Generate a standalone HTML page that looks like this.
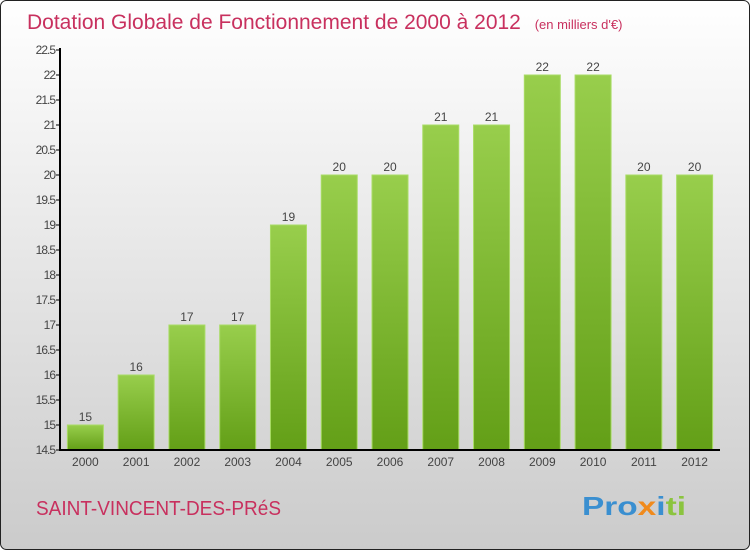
<!DOCTYPE html>
<html><head><meta charset="utf-8"><style>
body{margin:0;width:750px;height:550px;overflow:hidden;font-family:"Liberation Sans",sans-serif}
</style></head><body>
<svg width="750" height="550" xmlns="http://www.w3.org/2000/svg">
<defs>
<linearGradient id="bg" x1="0" y1="0" x2="0" y2="1"><stop offset="0" stop-color="#ffffff"/><stop offset="1" stop-color="#cbcbcb"/></linearGradient>
<linearGradient id="bar" x1="0" y1="0" x2="0" y2="1"><stop offset="0" stop-color="#98ce4c"/><stop offset="1" stop-color="#639f17"/></linearGradient>
</defs>
<rect x="0.5" y="0.5" width="749" height="549" rx="6" fill="url(#bg)" stroke="#222"/>
<text x="27" y="29" font-size="21" fill="#c8305e">Dotation Globale de Fonctionnement de 2000 à 2012 <tspan font-size="13" dx="8">(en milliers d'€)</tspan></text>
<g id="ticks"></g>
<g id="bars"></g>
<line x1="60" y1="48" x2="60" y2="451" stroke="#000" stroke-width="2"/>
<line x1="59" y1="450" x2="720" y2="450" stroke="#000" stroke-width="2"/>
<text x="36" y="515" font-size="20" fill="#c8305e" textLength="245" lengthAdjust="spacingAndGlyphs">SAINT-VINCENT-DES-PRéS</text>
<text x="582" y="515" font-size="26" font-weight="bold" textLength="104" lengthAdjust="spacingAndGlyphs"><tspan fill="#3a8fd0">Pro</tspan><tspan fill="#f08a1c">x</tspan><tspan fill="#3a8fd0">i</tspan><tspan fill="#8bc43f">ti</tspan></text>
</svg>
<script>
const categories=["2000","2001","2002","2003","2004","2005","2006","2007","2008","2009","2010","2011","2012"];
const values=[15,16,17,17,19,20,20,21,21,22,22,20,20];
const labels=["15","16","17","17","19","20","20","21","21","22","22","20","20"];
const yTicks=[14.5,15,15.5,16,16.5,17,17.5,18,18.5,19,19.5,20,20.5,21,21.5,22,22.5];
const NS="http://www.w3.org/2000/svg";
const y=v=>450-(v-14.5)*50;
const slot=660/categories.length;
const x=i=>60+slot*(i+0.5);
function mk(t,a,p){const e=document.createElementNS(NS,t);for(const k in a)e.setAttribute(k,a[k]);p.appendChild(e);return e;}
const tg=document.getElementById('ticks'),bg=document.getElementById('bars');
yTicks.forEach(v=>{
 const l=mk('line',{x1:56,x2:60,y1:y(v),y2:y(v),stroke:'#000'},tg);
 
 
 const t=mk('text',{x:55,y:y(v)+4,'font-size':12,fill:'#444','text-anchor':'end','letter-spacing':'-1'},tg);
 
 
 t.textContent=String(v);
});
categories.forEach((c,i)=>{
 const r=mk('rect',{x:x(i)-18,y:y(values[i]),width:36,height:450-y(values[i]),fill:'url(#bar)',stroke:'#a9dc66','stroke-width':1},bg);
 
 
 const vl=mk('text',{x:x(i),y:y(values[i])-4,'font-size':12,fill:'#444','text-anchor':'middle'},bg);
 
 
 vl.textContent=labels[i];
 const xl=mk('text',{x:x(i),y:466,'font-size':12,fill:'#444','text-anchor':'middle'},bg);
 
 
 xl.textContent=c;
});
</script>
</body></html>
